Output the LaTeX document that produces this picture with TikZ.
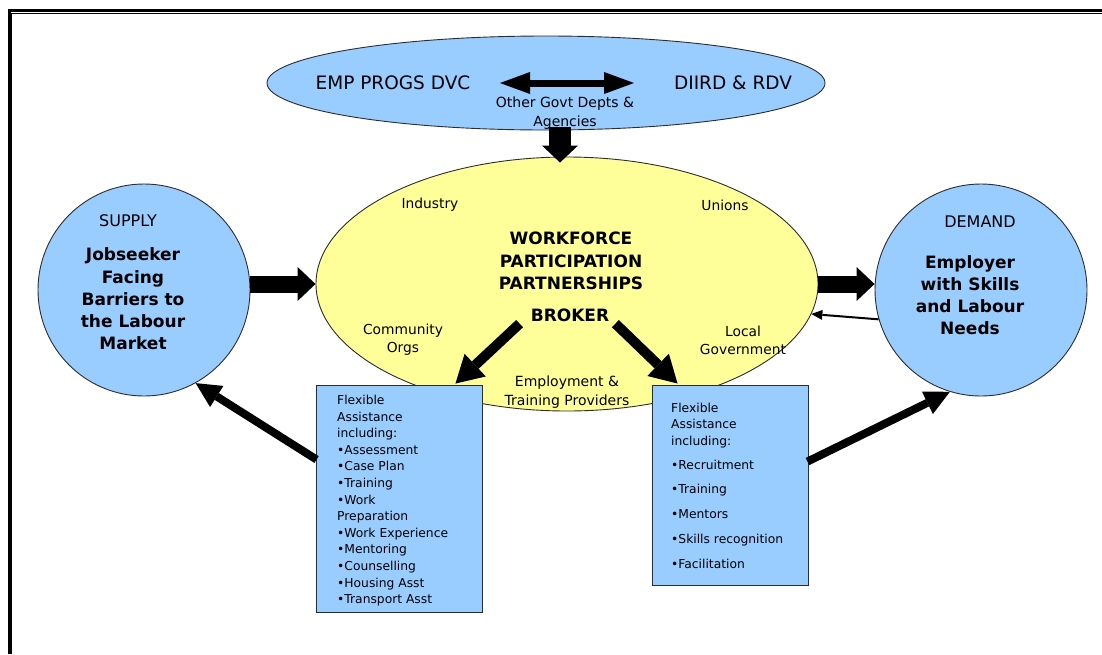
\documentclass[tikz,border=0pt]{standalone}
\usepackage{fontspec}
\setmainfont{DejaVu Sans}
\usetikzlibrary{arrows.meta,calc,shapes.geometric}
\definecolor{lblue}{RGB}{153,204,255}
\definecolor{lyellow}{RGB}{255,255,153}
\definecolor{edgec}{RGB}{45,45,45}
\begin{document}
\begin{tikzpicture}[x=1pt,y=-1pt,
  shapeline/.style={draw=edgec, line width=0.9pt},
  blueoval/.style={shapeline, ellipse, fill=lblue, inner sep=0pt},
  yellowoval/.style={shapeline, ellipse, fill=lyellow, inner sep=0pt},
  bluecircle/.style={shapeline, circle, fill=lblue, inner sep=0pt, minimum size=212pt},
  bluebox/.style={draw=edgec, line width=0.9pt, fill=lblue, rectangle, inner sep=0pt},
  lbl/.style={inner sep=0pt, align=center, text=black},
  boxtext/.style={inner sep=0pt, align=left, anchor=north west, text=black},
  fbig/.style={font=\fontsize{18.5}{22}\selectfont},
  fmid/.style={font=\fontsize{14}{19}\selectfont},
  fsmall/.style={font=\fontsize{13.8}{18}\selectfont},
  flabel/.style={font=\fontsize{16}{20}\selectfont},
  fbold/.style={font=\fontsize{17}{22.2}\selectfont\bfseries},
  bigarrow/.style={line width=17pt, -{Triangle[length=18pt,width=34pt,line width=0pt]}},
  downarrow/.style={line width=22pt, -{Triangle[length=17pt,width=36pt,line width=0pt]}},
  dblarrow/.style={line width=7pt, {Triangle[length=30pt,width=22pt,line width=0pt]}-{Triangle[length=30pt,width=22pt,line width=0pt]}},
  brokerarrow/.style={line width=10pt, -{Triangle[length=27pt,width=31pt,line width=0pt]}},
  lowarrow/.style={line width=8pt, -{Triangle[length=25pt,width=25pt,line width=0pt]}},
  thinarrow/.style={line width=2pt, -{Triangle[length=11pt,width=10pt,line width=0pt]}},
  framethick/.style={line width=3pt, draw=black},
  framethin/.style={line width=1.2pt, draw=black}
]
\useasboundingbox (0,0) rectangle (1102,654);
\fill[white] (0,0) rectangle (1102,654);

% frame
\draw[framethick] (9.5,654) -- (9.5,10) -- (1102,10);
\draw[framethin] (11.6,654) -- (11.6,13.2) -- (1102,13.2);

% top ellipse
\node[blueoval, minimum width=558pt, minimum height=94pt] (gov) at (546,83) {};
\node[lbl, fbig] (emp) at (393,83) {EMP PROGS DVC};
\node[lbl, fbig] (diird) at (733,83) {DIIRD \& RDV};
\coordinate (dl) at (500,83);
\coordinate (dr) at (634,83);
\draw[dblarrow] (dl) -- (dr);
\node[lbl, fmid] (other) at (565,113) {Other Govt Depts \&\\Agencies};

% central ellipse
\node[yellowoval, minimum width=502pt, minimum height=254pt] (wpp) at (567,284) {};
\draw[downarrow] ($(gov.south)+(14,-3)$) -- ($(wpp.north)+(-7,6)$);

% circles
\node[bluecircle] (supply) at (144,290) {};
\node[bluecircle] (demand) at (981,290) {};

\node[lbl, flabel] (supplylbl) at (128,221) {SUPPLY};
\node[lbl, fbold] (supplytxt) at (133,299) {Jobseeker\\Facing\\Barriers to\\the Labour\\Market};
\node[lbl, flabel] (demandlbl) at (980,222) {DEMAND};
\node[lbl, fbold] (demandtxt) at (970,295) {Employer\\with Skills\\and Labour\\Needs};

% texts in central ellipse
\node[lbl, fsmall] (industry) at (430,205) {Industry};
\node[lbl, fsmall] (unions) at (725,205) {Unions};
\node[lbl, fbold, font=\fontsize{17}{22.5}\selectfont\bfseries] (wpptxt) at (571,261) {WORKFORCE\\PARTICIPATION\\PARTNERSHIPS};
\node[lbl, fbold] (broker) at (570,315) {BROKER};
\node[lbl, fsmall] (community) at (403,340) {Community\\Orgs};
\node[lbl, fsmall] (localgov) at (743,340) {Local\\Government};
\node[lbl, fmid] (etp) at (567,392) {Employment \&\\Training Providers};

% horizontal arrows
\draw[bigarrow] (supply.east |- wpp.west) -- (wpp.west);
\draw[bigarrow] (wpp.east) -- (demand.west |- wpp.east);
\draw[thinarrow] (demand.-164.6) -- (wpp.-7.7);

% boxes
\node[bluebox, minimum width=166pt, minimum height=227pt] (lbox) at (399,498.5) {};
\node[bluebox, minimum width=156pt, minimum height=200pt] (rbox) at (730,485) {};

\node[boxtext, font=\fontsize{12.3}{16.6}\selectfont] (ltext) at (337,395)
  {Flexible\\Assistance\\including:\\•Assessment\\•Case Plan\\•Training\\•Work\\Preparation\\•Work Experience\\•Mentoring\\•Counselling\\•Housing Asst\\•Transport Asst};
\node[boxtext, font=\fontsize{12.3}{16.5}\selectfont] (rtext) at (671,402.5)
  {Flexible\\Assistance\\including:\\[7.5pt]•Recruitment\\[8.4pt]•Training\\[8.4pt]•Mentors\\[8.4pt]•Skills recognition\\[8.4pt]•Facilitation};

% broker arrows
\draw[brokerarrow] ($(broker.south west)+(-11,2)$) -- ($(lbox.north east)+(-27,-1)$);
\draw[brokerarrow] ($(broker.south east)+(6,2)$) -- ($(rbox.north west)+(26,-1)$);

% lower arrows
\draw[lowarrow] ($(lbox.north west)+(1,75)$) -- (supply.-61);
\draw[lowarrow] ($(rbox.north east)+(-1,77)$) -- (demand.-107);
\end{tikzpicture}
\end{document}
